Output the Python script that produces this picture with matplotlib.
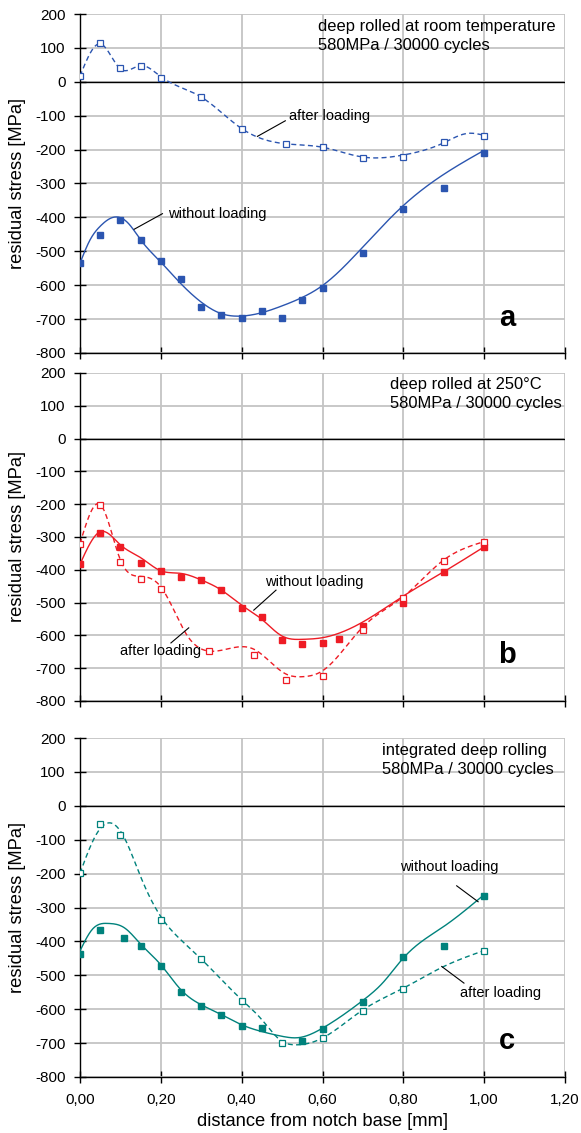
import numpy as np
import matplotlib
matplotlib.use("Agg")
import matplotlib.pyplot as plt
from matplotlib.ticker import FuncFormatter

plt.rcParams['font.family'] = ['Liberation Sans', 'DejaVu Sans']
plt.rcParams['axes.unicode_minus'] = False

# ---------------- data ----------------
# panel a: deep rolled at room temperature
a_wo_x = [0.0, 0.05, 0.10, 0.15, 0.20, 0.25, 0.30, 0.35, 0.40, 0.45, 0.50, 0.55, 0.60, 0.70, 0.80, 0.90, 1.00]
a_wo_y = [-535, -452, -408, -466, -529, -583, -665, -687, -698, -677, -698, -644, -608, -505, -376, -314, -209]
a_af_x = [0.0, 0.05, 0.10, 0.15, 0.20, 0.30, 0.40, 0.51, 0.60, 0.70, 0.80, 0.90, 1.00]
a_af_y = [17, 113, 40, 48, 10, -45, -140, -183, -193, -226, -221, -178, -159]
a_wo_fit_x = [0.0, 0.025, 0.05, 0.085, 0.12, 0.15, 0.20, 0.25, 0.30, 0.35, 0.40, 0.45, 0.50, 0.55, 0.60, 0.70, 0.80, 0.90, 1.00]
a_wo_fit_y = [-535, -466, -426, -399, -418, -466, -532, -596, -650, -684, -691, -681, -661, -636, -601, -487, -365, -273, -202]
a_af_fit_x = [0.0, 0.05, 0.10, 0.15, 0.20, 0.30, 0.40, 0.45, 0.51, 0.60, 0.70, 0.80, 0.90, 0.96, 1.00]
a_af_fit_y = [17, 112, 38, 48, 15, -45, -138, -168, -183, -193, -222, -216, -180, -152, -158]

# panel b: deep rolled at 250°C
b_wo_x = [0.0, 0.05, 0.10, 0.15, 0.20, 0.25, 0.30, 0.35, 0.40, 0.45, 0.50, 0.55, 0.60, 0.64, 0.70, 0.80, 0.90, 1.00]
b_wo_y = [-383, -288, -331, -379, -404, -421, -430, -462, -516, -544, -614, -626, -623, -611, -572, -500, -406, -331]
b_af_x = [0.0, 0.05, 0.10, 0.15, 0.20, 0.32, 0.43, 0.51, 0.60, 0.70, 0.80, 0.90, 1.00]
b_af_y = [-320, -201, -377, -427, -460, -648, -660, -736, -723, -584, -485, -374, -316]
b_wo_fit_x = [0.0, 0.05, 0.10, 0.15, 0.20, 0.25, 0.30, 0.35, 0.40, 0.45, 0.50, 0.55, 0.60, 0.65, 0.70, 0.80, 0.90, 1.00]
b_wo_fit_y = [-383, -284, -324, -363, -403, -411, -431, -462, -508, -551, -602, -612, -607, -589, -559, -480, -406, -330]
b_af_fit_x = [0.0, 0.05, 0.10, 0.15, 0.20, 0.265, 0.32, 0.43, 0.51, 0.55, 0.60, 0.70, 0.80, 0.90, 1.00]
b_af_fit_y = [-320, -201, -370, -420, -452, -600, -648, -642, -718, -726, -708, -574, -482, -370, -314]

# panel c: integrated deep rolling
c_wo_x = [0.0, 0.05, 0.11, 0.15, 0.20, 0.25, 0.30, 0.35, 0.40, 0.45, 0.55, 0.60, 0.70, 0.80, 0.90, 1.00]
c_wo_y = [-436, -365, -389, -413, -474, -548, -590, -618, -649, -655, -695, -657, -580, -447, -415, -266]
c_af_x = [0.0, 0.05, 0.10, 0.20, 0.30, 0.40, 0.50, 0.60, 0.70, 0.80, 1.00]
c_af_y = [-199, -55, -87, -337, -452, -577, -700, -685, -606, -539, -427]
c_wo_fit_x = [0.0, 0.03, 0.07, 0.11, 0.15, 0.20, 0.25, 0.30, 0.35, 0.40, 0.45, 0.50, 0.54, 0.60, 0.70, 0.75, 0.80, 0.90, 1.00]
c_wo_fit_y = [-428, -365, -347, -360, -408, -469, -543, -587, -616, -646, -666, -680, -684, -656, -574, -521, -449, -356, -262]
c_af_fit_x = [0.0, 0.04, 0.08, 0.11, 0.15, 0.20, 0.25, 0.30, 0.35, 0.40, 0.45, 0.50, 0.53, 0.60, 0.70, 0.80, 0.90, 1.00]
c_af_fit_y = [-199, -85, -52, -95, -209, -327, -396, -452, -513, -572, -631, -695, -705, -685, -602, -538, -474, -427]

x_ticks = [0.0, 0.2, 0.4, 0.6, 0.8, 1.0, 1.2]
y_ticks = [-800, -700, -600, -500, -400, -300, -200, -100, 0, 100, 200]

panels = [
    dict(wo=(a_wo_x, a_wo_y), af=(a_af_x, a_af_y), wo_fit=(a_wo_fit_x, a_wo_fit_y), af_fit=(a_af_fit_x, a_af_fit_y),
         color='#2b55b0', title="deep rolled at room temperature\n580MPa / 30000 cycles", title_x=0.589,
         letter='a', letter_y=-697,
         ann=[("after loading", (0.517, -101), (0.508, -115), (0.439, -161)),
              ("without loading", (0.219, -389), (0.204, -389), (0.134, -435))]),
    dict(wo=(b_wo_x, b_wo_y), af=(b_af_x, b_af_y), wo_fit=(b_wo_fit_x, b_wo_fit_y), af_fit=(b_af_fit_x, b_af_fit_y),
         color='#ee1c25', title="deep rolled at 250°C\n580MPa / 30000 cycles", title_x=0.767,
         letter='b', letter_y=-660,
         ann=[("without loading", (0.457, -436), (0.485, -462), (0.43, -523)),
              ("after loading", (0.099, -647), (0.269, -577), (0.225, -623))]),
    dict(wo=(c_wo_x, c_wo_y), af=(c_af_x, c_af_y), wo_fit=(c_wo_fit_x, c_wo_fit_y), af_fit=(c_af_fit_x, c_af_fit_y),
         color='#00827c', title="integrated deep rolling\n580MPa / 30000 cycles", title_x=0.747,
         letter='c', letter_y=-695,
         ann=[("without loading", (0.791, -180), (0.932, -236), (0.985, -283)),
              ("after loading", (0.939, -553), (0.895, -474), (0.95, -523))]),
]


def natural_spline(xk, yk, n=400):
    xk = np.asarray(xk, float)
    yk = np.asarray(yk, float)
    m = len(xk)
    h = np.diff(xk)
    A = np.zeros((m, m))
    r = np.zeros(m)
    A[0, 0] = 1
    A[-1, -1] = 1
    for i in range(1, m - 1):
        A[i, i - 1] = h[i - 1]
        A[i, i] = 2 * (h[i - 1] + h[i])
        A[i, i + 1] = h[i]
        r[i] = 3 * ((yk[i + 1] - yk[i]) / h[i] - (yk[i] - yk[i - 1]) / h[i - 1])
    c = np.linalg.solve(A, r)
    b = (yk[1:] - yk[:-1]) / h - h * (2 * c[:-1] + c[1:]) / 3
    d = (c[1:] - c[:-1]) / (3 * h)
    xs = np.linspace(xk[0], xk[-1], n)
    idx = np.clip(np.searchsorted(xk, xs) - 1, 0, m - 2)
    dx = xs - xk[idx]
    ys = yk[idx] + b[idx] * dx + c[idx] * dx ** 2 + d[idx] * dx ** 3
    return xs, ys


fig = plt.figure(figsize=(5.81, 11.33), dpi=100)
W, H = 581, 1133
tops = [14, 373, 738]
bots = [353, 701, 1077]
left_px, right_px = 80, 565

fmt = FuncFormatter(lambda v, p: f"{v:.2f}".replace('.', ','))

for i, p in enumerate(panels):
    ax = fig.add_axes([left_px / W, 1 - bots[i] / H, (right_px - left_px) / W, (bots[i] - tops[i]) / H])
    ax.set_xlim(0, 1.2)
    ax.set_ylim(-800, 200)
    ax.set_xticks(x_ticks)
    ax.set_yticks(y_ticks)
    ax.grid(True, color='#c4c4c4', linewidth=1.3)
    ax.set_axisbelow(True)
    for s in ['top', 'right']:
        ax.spines[s].set_visible(False)
    ax.spines['left'].set_linewidth(1.0)
    ax.spines['bottom'].set_linewidth(1.0)
    ax.tick_params(axis='both', direction='inout', length=8, width=1.0, labelsize=11)
    ax.tick_params(axis='y', pad=6.5)
    ax.tick_params(axis='x', pad=7.5)
    ax.axhline(0, color='black', linewidth=1.0, zorder=2)
    if i == 2:
        ax.xaxis.set_major_formatter(fmt)
        ax.set_xlabel("distance from notch base [mm]", fontsize=13.2)
        ax.xaxis.label.set_va('center')
        ax.xaxis.set_label_coords(0.5, -(1121 - 1077) / (bots[i] - tops[i]))
    else:
        ax.tick_params(axis='x', labelbottom=False)
    ax.set_ylabel("residual stress [MPa]", fontsize=13.2)
    ax.yaxis.label.set_va('center')
    ax.yaxis.set_label_coords(-(left_px - 18) / (right_px - left_px), 0.5)

    col = p['color']
    xs, ys = natural_spline(*p['wo_fit'])
    ax.plot(xs, ys, color=col, linewidth=1.0, zorder=3)
    xs, ys = natural_spline(*p['af_fit'])
    ax.plot(xs, ys, color=col, linewidth=1.0, linestyle=(0, (3.6, 2.4)), zorder=3)
    ax.plot(p['wo'][0], p['wo'][1], linestyle='none', marker='s', markersize=4.5,
            markerfacecolor=col, markeredgecolor=col, zorder=4)
    ax.plot(p['af'][0], p['af'][1], linestyle='none', marker='s', markersize=4.5,
            markerfacecolor='white', markeredgecolor=col, markeredgewidth=0.9, zorder=4)

    ax.text(p['title_x'], 135.5, p['title'], fontsize=11.9, ha='left', va='center', linespacing=1.28,
            zorder=5)
    ax.text(1.056, p['letter_y'], p['letter'], fontsize=21, fontweight='bold', ha='center', va='center')
    for txt, tpos, lp0, lp1 in p['ann']:
        ax.text(tpos[0], tpos[1], txt, fontsize=10.5, ha='left', va='center', zorder=5)
        ax.plot([lp0[0], lp1[0]], [lp0[1], lp1[1]], color='black', linewidth=0.8, zorder=5)

fig.savefig("out.png", dpi=100)
